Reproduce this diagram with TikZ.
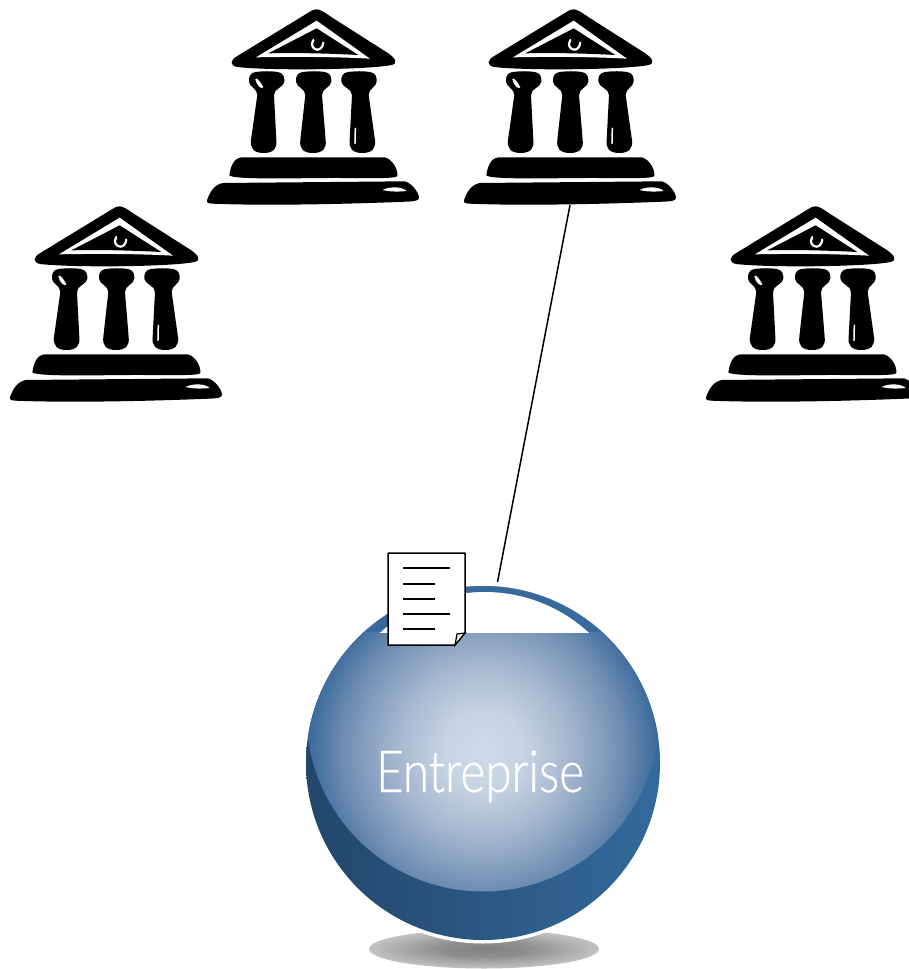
\documentclass[tikz,border=0pt]{standalone}
\usepackage{fontspec}
\newfontfamily\entfont[FakeStretch=0.82,FakeBold=0.5]{Lato Light}
\definecolor{ballmid}{HTML}{38699B}
\definecolor{balldark}{HTML}{23466B}
\definecolor{ballblue}{HTML}{336A9C}
\definecolor{ballcore}{HTML}{CFDBE8}
\definecolor{ballnear}{HTML}{C6D3E2}
\definecolor{ballin}{HTML}{A4B6CE}
\definecolor{ballout}{HTML}{6F8DB2}
\definecolor{shadowcore}{HTML}{7F7F7F}
\definecolor{shadowmid}{HTML}{8F8F8F}
\definecolor{shadowedge}{HTML}{C2C2C2}
\pgfdeclareradialshading{ballglow}{\pgfpoint{0bp}{0bp}}{
  color(0bp)=(ballcore); color(5bp)=(ballnear); color(11bp)=(ballin); color(17.5bp)=(ballout); color(22bp)=(ballmid); color(100bp)=(ballmid)}
\pgfdeclareradialshading{shadowglow}{\pgfpoint{0bp}{0bp}}{
  color(0bp)=(shadowcore); color(10bp)=(shadowmid); color(25bp)=(shadowedge); color(100bp)=(shadowedge)}
\newcommand{\bankcol}[3]{%
  \fill (#1-33,216) .. controls (#1-10,213) and (#1+15,213) .. (#1+33,216)
    .. controls (#1+50,218) and (#1+54,232) .. (#1+53,245)
    .. controls (#1+52,262) and (#2+25,265) .. (#2+25,285)
    -- (#3+38,420) .. controls (#3+41,445) and (#3+30,459) .. (#3,459)
    .. controls (#3-30,459) and (#3-41,445) .. (#3-38,420)
    -- (#2-25,285) .. controls (#2-25,265) and (#1-52,262) .. (#1-53,245)
    .. controls (#1-54,232) and (#1-50,218) .. (#1-33,216) -- cycle;}
\tikzset{
  bank/.pic={
    \begin{scope}[x=0.3333pt,y=-0.3333pt,fill=black]
      \fill (350,28) .. controls (360,28) and (372,36) .. (400,55) -- (565,160)
        .. controls (588,176) and (594,190) .. (575,195)
        .. controls (500,210) and (200,212) .. (112,201)
        .. controls (88,197) and (90,180) .. (112,168) -- (330,35)
        .. controls (340,29) and (345,28) .. (350,28) -- cycle;
      \fill[white] (350,62) -- (510,176) .. controls (400,170) and (280,170) .. (168,172) -- cycle;
      \fill (350,85) -- (475,165) .. controls (380,160) and (290,158) .. (205,160) -- cycle;
      \draw[white,line width=2.2pt,line cap=round] (340,120) .. controls (330,135) and (340,149) .. (352,149)
        .. controls (362,149) and (368,140) .. (370,128);
      \bankcol{200}{197}{191}
      \bankcol{341}{341}{339}
      \bankcol{477}{481}{487}
      \fill[white] (166,238) .. controls (170,232) and (178,240) .. (190,262)
        .. controls (186,270) and (170,258) .. (166,238) -- cycle;
      \draw[white,line width=1.5pt,line cap=round] (466,385) -- (465,430);
      \fill (88,526) .. controls (92,500) and (100,475) .. (125,472) -- (555,472)
        .. controls (580,480) and (594,510) .. (592,528)
        .. controls (590,537) and (500,534) .. (400,534)
        .. controls (300,534) and (100,540) .. (88,526) -- cycle;
      \fill (22,598) .. controls (30,575) and (45,552) .. (70,549) -- (615,544)
        .. controls (635,550) and (655,575) .. (657,592)
        .. controls (658,602) and (645,604) .. (620,605)
        .. controls (450,612) and (200,618) .. (35,611)
        .. controls (22,610) and (18,606) .. (22,598) -- cycle;
      \fill[white] (548,570) .. controls (565,560) and (605,558) .. (620,573)
        .. controls (595,576) and (565,575) .. (548,570) -- cycle;
    \end{scope}
  },
  linkline/.style={line width=1.5pt,draw=black},
  paper/.style={draw=black,line width=1.5pt,fill=white,line join=round},
  paperline/.style={draw=black,line width=1.2pt}
}
\begin{document}
\begin{tikzpicture}[x=1pt,y=-1pt]
  \useasboundingbox (0,0) rectangle (909,969);
  \begin{scope}
    \clip (0,0) rectangle (909,969);
    \pic (bankA) at (3,197) {bank};
    \pic (bankB) at (200,0) {bank};
    \pic (bankC) at (457,0) {bank};
    \pic (bankD) at (699,197) {bank};
  \end{scope}
  % shadow
  \shade[shading=shadowglow] (484,949) ellipse [x radius=115, y radius=19.5];
  \fill[white] (483,763) circle[radius=180.5];
  % sphere
  \begin{scope}
    \clip (483,763) circle[radius=177];
    \shade[left color=balldark,right color=ballblue,shading angle=90] (306,586) rectangle (660,940);
    \begin{scope}
      \clip (483,715) circle[radius=176.5];
      \shade[shading=ballglow] (283,550) rectangle (683,950);
    \end{scope}
    \fill[white] (300,580) rectangle (670,632);
  \end{scope}
  \begin{scope}
    \clip (483,763) circle[radius=177];
    \clip (300,580) rectangle (670,632);
    \fill[ballmid] (300,580) rectangle (670,632);
    \fill[white] (484.5,746) circle[radius=154];
  \end{scope}
  \node[text=white,font=\entfont\fontsize{58}{58}\selectfont,inner sep=0pt,anchor=base] (label) at (480,792) {Entreprise};
  % document
  \path[paper] (388,553) -- (465,553) -- (465,633) -- (455,645) -- (388,645) -- cycle;
  \path[draw=black,line width=1.2pt,fill=black!8] (465,633) -- (457,634) -- (455,645) -- cycle;
  \foreach \ypos/\xend in {568/450,584/435,599/435,614/450,629/435}
    \draw[paperline] (403,\ypos) -- (\xend,\ypos);
  % connector
  \coordinate (bankfoot) at (570,205);
  \coordinate (ballend) at (497.5,582);
  \draw[linkline] (bankfoot) -- (ballend);
\end{tikzpicture}
\end{document}
